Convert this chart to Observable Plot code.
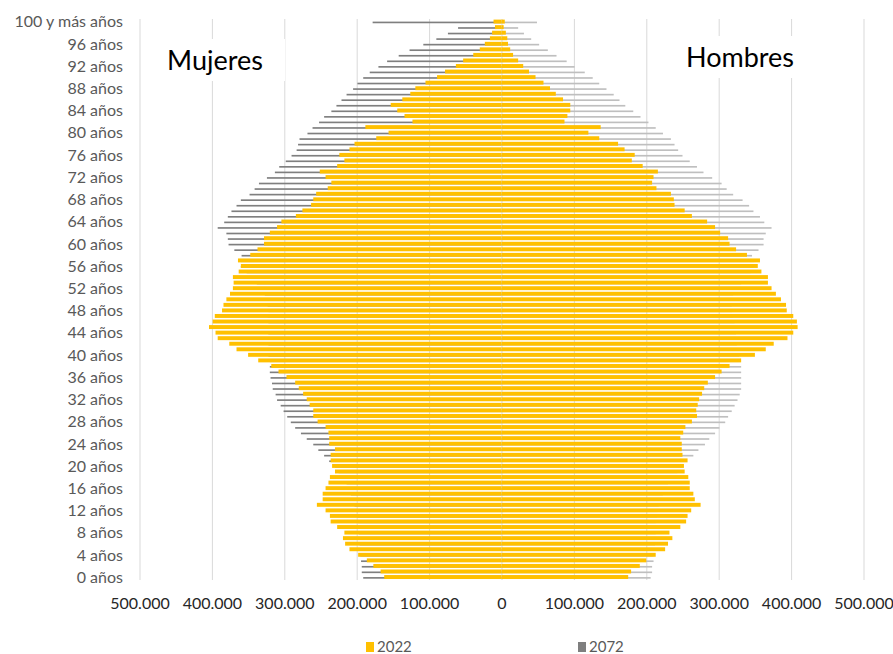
<!DOCTYPE html>
<html><head><meta charset="utf-8">
<script src="https://cdn.jsdelivr.net/npm/d3@7"></script>
<script src="https://cdn.jsdelivr.net/npm/@observablehq/plot@0.6"></script>
<style>
body{margin:0;background:#fff;font-family:Lato,"Open Sans",sans-serif}
#wrap{position:relative;width:893px;height:654px}
#chart{position:absolute;left:0;top:0}
.side{position:absolute;background:#fff;font-size:27px;color:#000;line-height:42px;height:42px;text-align:center}
.leg{position:absolute;top:640px;height:13px;line-height:13px;font-size:15px;color:#595959;display:flex;align-items:center}
.leg span.sw{display:inline-block;width:8px;height:10px;margin-right:3px}
</style></head><body>
<div id="wrap">
<div id="chart"></div>
<div class="side" style="left:145px;top:39px;width:140px">Mujeres</div>
<div class="side" style="left:672px;top:36px;width:136px">Hombres</div>
<div class="leg" style="left:366px"><span class="sw" style="background:#FFC000"></span>2022</div>
<div class="leg" style="left:578px"><span class="sw" style="background:#7f7f7f"></span>2072</div>
</div>
<script>
// ages 0..100 (100 = "100 y más años")
const ages = d3.range(0, 101);
// thousands of people
const mujeres2022 = [162,167,177,186,198,210,216,219,217,227,236,237,243,255,247,247,243,239,237,230,234,236,236,230,238,238,239,243,254,260,260,265,269,274,280,285,297,308,318,336,350,366,376,392,395,404,399,396,386,384,380,375,371,370,371,363,360,364,347,337,328,328,320,310,304,284,275,263,260,256,240,235,243,251,227,217,224,210,203,173,156,188,123,134,144,153,137,126,119,105,89,78,63,53,39,30,23,16,13,9,11];
const mujeres2072 = [191,193,193,194,195,195,196,196,197,198,198,199,201,203,205,208,211,214,218,225,230,238,245,253,260,269,277,285,291,296,301,305,310,312,316,317,319,320,320,320,322,322,322,322,322,322,322,323,322,323,324,327,332,338,345,352,360,360,359,369,377,378,380,392,383,378,373,366,360,348,341,335,324,313,307,298,290,283,281,279,268,261,252,245,235,228,221,214,205,199,191,182,170,158,142,127,108,90,74,60,178];
const hombres2022 = [175,179,191,200,213,226,230,236,232,247,255,257,262,275,267,265,260,260,258,253,252,257,250,249,249,247,251,254,263,270,269,271,273,277,280,285,295,304,315,331,350,365,376,395,403,409,408,403,394,393,386,379,373,368,368,359,354,357,339,324,315,313,302,295,284,263,253,239,238,234,214,208,210,216,195,180,184,170,161,135,120,137,87,91,95,95,85,75,67,58,47,38,30,23,16,12,9,8,6,3,4.5];
const hombres2072 = [206,208,208,210,210,211,212,212,213,213,213,215,216,217,220,223,226,230,237,243,249,256,265,272,281,287,295,301,309,313,318,322,326,329,331,331,331,331,331,329,328,325,325,325,324,323,322,320,318,318,318,320,325,331,337,344,348,349,346,355,362,362,365,373,363,357,348,342,333,320,311,304,291,279,270,260,250,244,239,234,223,213,203,192,182,171,163,155,145,135,126,115,101,90,76,64,52,41,31,23,49];
const xTicks = d3.range(-500000, 500001, 100000);
const yTicks = d3.range(0, 101, 4);

const rows = ages.map((a, i) => ({
  age: a,
  m22: -mujeres2022[i] * 1000, m72: -mujeres2072[i] * 1000,
  h22: hombres2022[i] * 1000, h72: hombres2072[i] * 1000
}));
const fmt = d => d3.format(",")(Math.abs(d)).replace(/,/g, ".");

const chart = Plot.plot({
  width: 893, height: 622,
  marginTop: 19, marginBottom: 42, marginLeft: 139.5, marginRight: 29.5,
  style: {fontFamily: "Lato, 'Open Sans', sans-serif", background: "#fff"},
  x: {domain: [-500000, 500000]},
  y: {type: "band", domain: ages.slice().reverse(), padding: 0},
  marks: [
    Plot.ruleX(xTicks, {stroke: "#d9d9d9", strokeWidth: 1}),
    Plot.barX(rows, {x: "m72", y: "age", fill: "#7f7f7f", insetTop: 2.6, insetBottom: 1.3}),
    Plot.barX(rows, {x: "h72", y: "age", fill: "#bfbfbf", insetTop: 2.6, insetBottom: 1.3}),
    Plot.barX(rows, {x: "m22", y: "age", fill: "#FFC000", insetTop: 0.6, insetBottom: 1.0}),
    Plot.barX(rows, {x: "h22", y: "age", fill: "#FFC000", insetTop: 0.6, insetBottom: 1.0}),
    Plot.axisX({ticks: xTicks, tickFormat: fmt, tickSize: 0, tickPadding: 17, fontSize: 16, fill: "#262626", label: null}),
    Plot.axisY({ticks: yTicks, tickFormat: d => d === 100 ? "100 y más años" : `${d} años`, tickSize: 0, tickPadding: 17, fontSize: 16, fill: "#595959", label: null})
  ]
});
document.getElementById("chart").appendChild(chart);
</script>
</body></html>
